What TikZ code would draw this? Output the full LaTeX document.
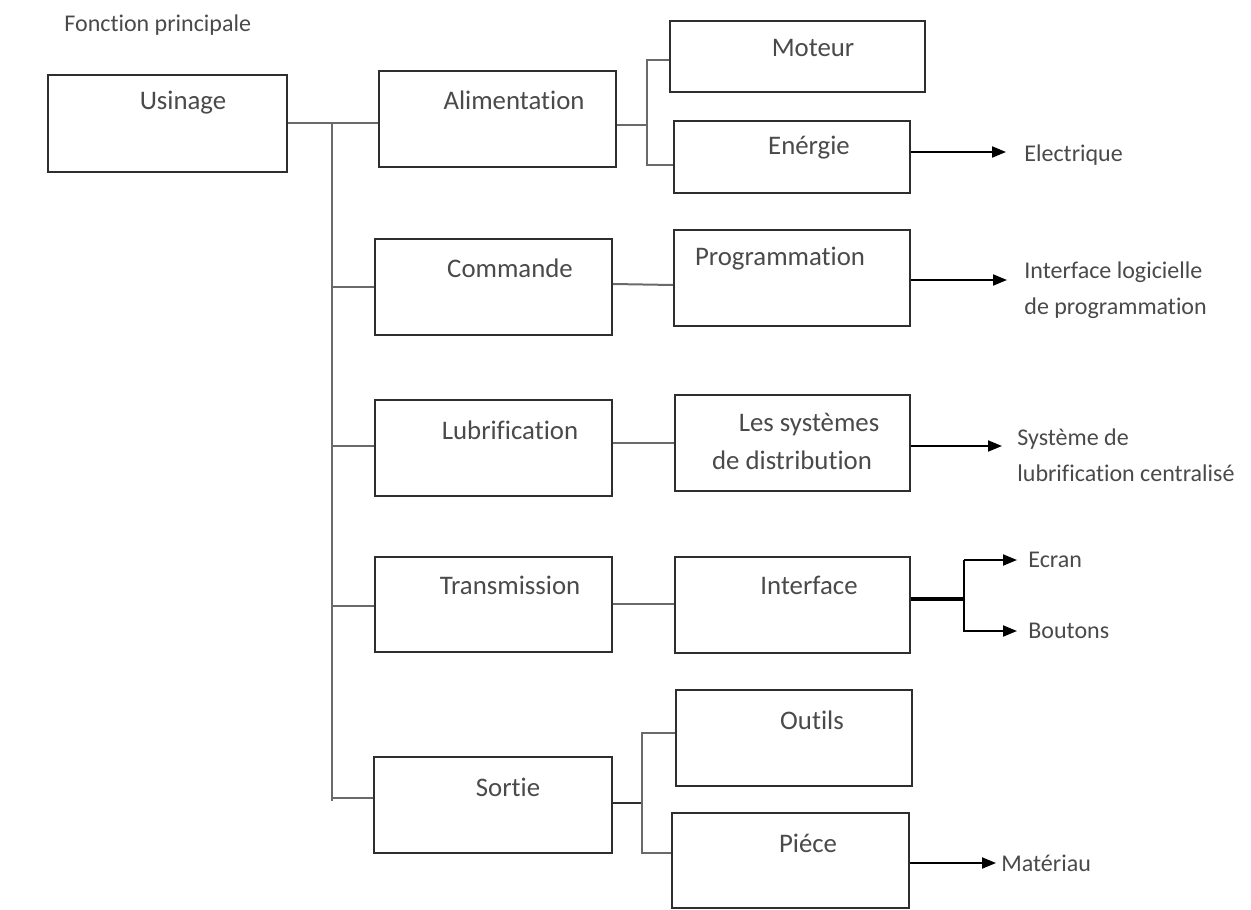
\documentclass[tikz,border=0pt]{standalone}
\usepackage{fontspec}
\setmainfont{Carlito}[Ligatures=NoCommon]
\usetikzlibrary{arrows.meta,calc}
\definecolor{txt}{HTML}{4A4A4A}
\definecolor{edge}{HTML}{2E2E2E}
\definecolor{conn}{HTML}{6A6A6A}
\tikzset{
  bx/.style 2 args={draw=edge, line width=1pt, inner sep=0pt, fill=white,
     minimum width=#1*0.5pt, minimum height=#2*0.5pt},
  lbl/.style={text=txt, font=\fontsize{13.4}{16}\selectfont, inner sep=0pt},
  small/.style={text=txt, font=\fontsize{12}{15}\selectfont, inner sep=0pt, align=left},
  cn/.style={draw=conn, line width=1pt},
  arr/.style={draw=black, line width=1pt, -{Triangle[length=7pt,width=5.5pt]}},
}
\begin{document}
\begin{tikzpicture}[x=0.5pt,y=-0.5pt]
\useasboundingbox[fill=white] (0,0) rectangle (1251,909);

\node[small, anchor=west] (title) at (64,25) {Fonction principale};

% boxes
\node[bx={239}{97}] (usinage) at (167.5,123.5) {};
\node[bx={237}{96}] (alim) at (497.5,119) {};
\node[bx={255}{71}] (moteur) at (797.5,56.5) {};
\node[bx={236}{72}] (energie) at (792,157) {};
\node[bx={237}{96}] (commande) at (493.5,287) {};
\node[bx={236}{96}] (prog) at (792,278) {};
\node[bx={237}{96}] (lubri) at (493.5,448) {};
\node[bx={235}{96}] (distrib) at (792.5,443) {};
\node[bx={237}{95}] (transm) at (493.5,604.5) {};
\node[bx={235}{96}] (interf) at (792.5,605) {};
\node[bx={238}{96}] (sortie) at (493,805) {};
\node[bx={236}{96}] (outils) at (794,738) {};
\node[bx={237}{95}] (piece) at (790.5,860) {};

% box texts
\node[lbl] (usinage-t) at (183,103) {Usinage};
\node[lbl] (alim-t) at (514,100) {Alimentation};
\node[lbl] (moteur-t) at (813,48) {Moteur};
\node[lbl] (energie-t) at (809,148) {Enérgie};
\node[lbl] (commande-t) at (510,268) {Commande};
\node[lbl] (prog-t) at (780,259) {Programmation};
\node[lbl] (lubri-t) at (510,430) {Lubrification};
\node[lbl] (distrib-t1) at (809,425) {Les systèmes};
\node[lbl] (distrib-t2) at (792,460) {de distribution};
\node[lbl] (transm-t) at (510,585) {Transmission};
\node[lbl] (interf-t) at (809,585) {Interface};
\node[lbl] (sortie-t) at (508,787) {Sortie};
\node[lbl] (outils-t) at (812,720) {Outils};
\node[lbl] (piece-t) at (808,843) {Piéce};

% outputs
\node[small, anchor=west] (elec) at (1024,155) {Electrique};
\node[small, anchor=west] (ilog) at (1024,290) {Interface logicielle\\[3pt]de programmation};
\node[small, anchor=west] (slub) at (1017,455) {Système de\\[3pt]lubrification centralisé};
\node[small, anchor=west] (ecran) at (1028,560) {Ecran};
\node[small, anchor=west] (boutons) at (1028,631) {Boutons};
\node[small, anchor=west] (mat) at (1001,863) {Matériau};

% main trunk
\coordinate (tr) at (332,123);
\coordinate (trb) at (332,801);
\draw[cn] (usinage.east |- tr) -- (alim.west |- tr);
\draw[cn] (tr) -- (trb);
\draw[cn] (tr |- commande.west) -- (commande.west);
\draw[cn] ($(tr |- lubri.west)+(0,-2)$) -- ($(lubri.west)+(0,-2)$);
\draw[cn] ($(tr |- transm.west)+(0,1)$) -- ($(transm.west)+(0,1)$);
\draw[cn] ($(tr |- sortie.west)+(0,-7)$) -- ($(sortie.west)+(0,-7)$);

% alimentation branch
\coordinate (aj) at (647,125);
\draw[cn] (alim.east |- aj) -- (aj);
\draw[cn] (moteur.west |- 0,60) -| (aj |- 0,165) -- (energie.west |- 0,165);

% commande, lubrification, transmission links
\draw[cn] (commande.east |- 0,284) -- (prog.west |- 0,285);
\draw[cn] (lubri.east |- 0,443) -- (distrib.west |- 0,443);
\draw[cn] (transm.east |- 0,604) -- (interf.west |- 0,604);

% sortie branch
\coordinate (sj) at (642,803);
\draw[edge, line width=1.4pt] (sortie.east |- sj) -- (sj);
\draw[cn] (outils.west |- 0,733) -| (sj |- 0,853) -- (piece.west |- 0,853);

% arrows
\draw[arr] (energie.east |- 0,152) -- ($(elec.west |- 0,152)+(-18,0)$);
\draw[arr] (prog.east |- 0,280) -- ($(ilog.west |- 0,280)+(-17,0)$);
\draw[arr] (distrib.east |- 0,446) -- ($(slub.west |- 0,446)+(-15,0)$);
\coordinate (ij) at (964,599);
\draw[black, line width=1.6pt] (interf.east |- ij) -- (ij);
\draw[arr] (ij |- 0,560) -- ($(ecran.west)+(-11,0)$);
\draw[arr] (ij |- 0,560) -- (ij |- 0,631) -- ($(boutons.west)+(-11,0)$);
\draw[arr] (piece.east |- 0,863) -- ($(mat.west)+(-5,0)$);
\end{tikzpicture}
\end{document}
